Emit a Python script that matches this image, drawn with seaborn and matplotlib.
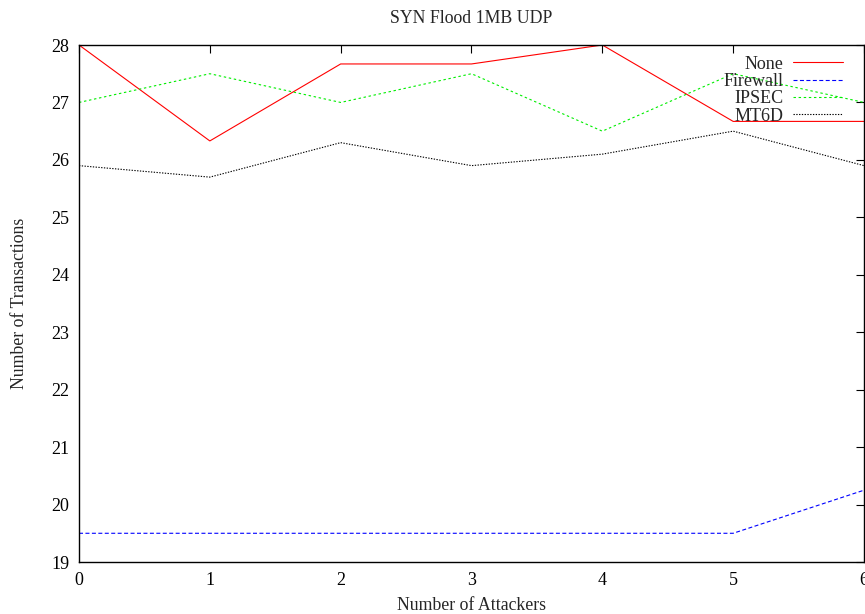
import matplotlib
matplotlib.use("Agg")
import matplotlib.pyplot as plt
import seaborn as sns
import pandas as pd

attackers = [0, 1, 2, 3, 4, 5, 6]
none_vals = [28, 26.33, 27.67, 27.67, 28, 26.67, 26.67]
firewall_vals = [19.5, 19.5, 19.5, 19.5, 19.5, 19.5, 20.25]
ipsec_vals = [27, 27.5, 27, 27.5, 26.5, 27.5, 27]
mt6d_vals = [25.9, 25.7, 26.3, 25.9, 26.1, 26.5, 25.9]
yticks = [19, 20, 21, 22, 23, 24, 25, 26, 27, 28]

sns.set_style("white")
plt.rcParams['font.family'] = ['Liberation Serif', 'DejaVu Serif']
plt.rcParams['font.size'] = 13

fig = plt.figure(figsize=(8.65, 6.14), dpi=100)
ax = fig.add_axes([79/865, 52/614, (864-79)/865, (562-45)/614])

series = [
    ("None", none_vals, "#ff0000", "-"),
    ("Firewall", firewall_vals, "#0000ff", (0, (3.6, 2.2))),
    ("IPSEC", ipsec_vals, "#00ee00", (0, (2.2, 2.4))),
    ("MT6D", mt6d_vals, "#000000", (0, (1.2, 1.3))),
]
for name, vals, color, ls in series:
    df = pd.DataFrame({"x": attackers, "y": vals})
    sns.lineplot(data=df, x="x", y="y", ax=ax, color=color, linewidth=0.8,
                 linestyle=ls, legend=False)

lines = ax.get_lines()
for ln, (name, *_rest) in zip(lines, series):
    ln.set_label(name)

ax.set_xlim(0, 6)
ax.set_ylim(19, 28)
ax.set_xticks(attackers)
ax.set_yticks(yticks)
ax.tick_params(direction="in", top=True, right=True, length=6, width=0.8,
               labelsize=13, pad=7, colors="black")
for s in ax.spines.values():
    s.set_color("black")
    s.set_linewidth(1.0)

ax.set_title("SYN Flood 1MB UDP", fontsize=12.8, pad=16)
ax.set_xlabel("Number of Attackers", fontsize=12.8, labelpad=6)
ax.set_ylabel("Number of Transactions", fontsize=12.8, labelpad=17)

leg = ax.legend(handles=list(lines), loc="upper right", bbox_to_anchor=(0.994, 1.011),
                frameon=False, markerfirst=False, handlelength=2.75, handletextpad=0.55,
                labelspacing=0.02, fontsize=13)

fig.savefig("out.png", dpi=100)
